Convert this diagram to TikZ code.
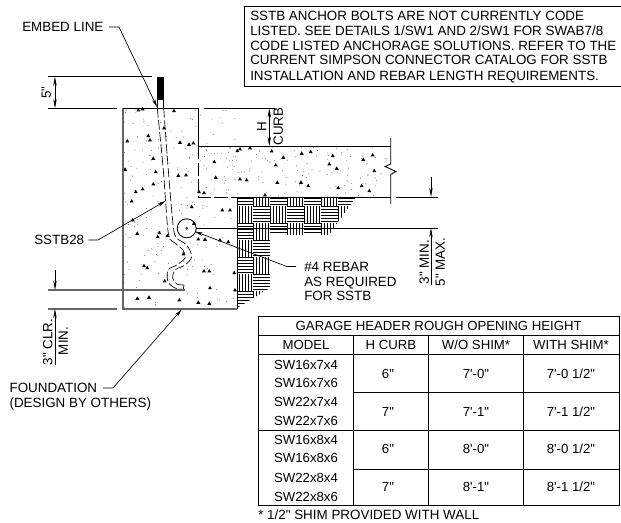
\documentclass[tikz,border=0pt]{standalone}
\usepackage{fontspec}
\usetikzlibrary{arrows.meta}
\newfontfamily\dwgfont{Liberation Sans}
\tikzset{
    lbl/.style={inner sep=0,anchor=west,text height=7.2pt,text depth=0pt,font=\dwgfont\fontsize{10.05}{12}\selectfont},
    cell/.style={lbl,anchor=center,font=\dwgfont\fontsize{9.9}{12}\selectfont},
    upright/.style={lbl,anchor=center,rotate=90},
    outline/.style={line width=0.65pt},
    thinline/.style={line width=0.5pt},
    greyline/.style={line width=1pt,black!60},
    dimline/.style={line width=0.5pt,-{Stealth[length=7pt,width=2.6pt]}},
    leader/.style={line width=0.5pt,-{Stealth[length=6pt,width=2.6pt]}},
    hatchline/.style={line width=0.5pt},
}
\begin{document}
\begin{tikzpicture}[x=0.75pt,y=-0.75pt]
    \pgfmathsetmacro{\wallleft}{123}
    \pgfmathsetmacro{\wallright}{198.5}
    \pgfmathsetmacro{\footright}{237}
    \pgfmathsetmacro{\walltop}{108.3}
    \pgfmathsetmacro{\slabtop}{146}
    \pgfmathsetmacro{\slabbottom}{197}
    \pgfmathsetmacro{\slabend}{390.7}
    \pgfmathsetmacro{\wallbottom}{309}
    \pgfmathsetmacro{\cellsize}{17}
    \pgfmathsetmacro{\hatchpitch}{3}
    \fill[white] (0,0) rectangle (621,523);
    \useasboundingbox (0,0) rectangle (621,523);
    % concrete
    \pgfmathsetseed{11}
    \foreach \i in {1,...,190} {
        \pgfmathsetmacro{\px}{\wallleft+1+rnd*(\footright-\wallleft-2)}
        \pgfmathsetmacro{\py}{\walltop+1+rnd*(\wallbottom-\walltop-2)}
        \fill[black!60] (\px,\py) circle (0.5);
    }
    \foreach \i in {1,...,120} {
        \pgfmathsetmacro{\px}{\wallright+1+rnd*(\slabend-\wallright-2)}
        \pgfmathsetmacro{\py}{\slabtop+1+rnd*(\slabbottom-\slabtop-2)}
        \fill[black!60] (\px,\py) circle (0.5);
    }
    \foreach \x/\y in {138.3/110,142.7/109,174/110.7,164/128,148.3/135.7,150/140,127.3/141,180/142.3,193.3/143,189/144.3,
        153.3/158.3,125/169.3,155.7/171.7,178.3/175.3,186/175,153.3/184,142.7/189,135.7/191.7,199/191.7,204/192.7,
        240/149,237.3/150.7,250/148,271.7/151,283.3/157.3,301.7/153.3,310.7/151.7,332.7/155.7,329.3/164,336.7/168.3,
        363.3/159.3,372.7/155,374.3/170.7,214.3/161.7,275.7/165,215.7/177.3,240/179,246.7/180,277.3/182.3,301/182.3,
        308.3/185.7,338.3/187.7,361.7/185.7,369.3/190.7,265/195,
        131.7/201,191.7/206.7,222.3/210,230/210,132.7/220,137.3/233.3,159.3/232.7,157.7/236.7,167.3/235.7,198.3/239,
        205/239.3,220/240,228.3/241.7,194/223.3,183.3/254,144/265.7,147.3/267.7,164.7/281,204/271,209.3/271,234.3/272.7,
        210/287.7,235/290,137.3/298.3,149/297.3,179.3/300,198.3/302.3,209.3/303.3} {
        \fill (\x-2,\y+1.5) -- (\x+2,\y+1.5) -- (\x,\y-2) -- cycle;
    }
    % masonry hatch
    \begin{scope}
        \clip (\footright,\slabbottom) -- (356,\slabbottom) -- (329,235) -- (270,235) -- (270,288) -- (\footright,308) -- cycle;
        \foreach \c in {0,...,6} {
            \foreach \r in {0,...,6} {
                \pgfmathsetmacro{\cx}{236+\c*\cellsize}
                \pgfmathsetmacro{\cy}{189+\r*\cellsize}
                \pgfmathtruncatemacro{\odd}{mod(\c+\r,2)}
                \foreach \k in {0,...,5} {
                    \ifnum\odd=0
                        \draw[hatchline] (\cx,\cy+0.5+\k*\hatchpitch) -- (\cx+\cellsize,\cy+0.5+\k*\hatchpitch);
                    \else
                        \draw[hatchline] (\cx+0.5+\k*\hatchpitch,\cy) -- (\cx+0.5+\k*\hatchpitch,\cy+\cellsize);
                    \fi
                }
            }
        }
    \end{scope}
    % foundation and curb
    \draw[greyline] (\footright,\wallbottom) -- (\wallleft,\wallbottom) -- (\wallleft,\walltop);
    \draw[outline] (\wallleft,\walltop) -- (\wallright,\walltop) -- (\wallright,\slabtop);
    \draw[outline] (\footright,\slabbottom) -- (\footright,\wallbottom);
    \draw[outline,dash pattern=on 10pt off 2.5pt] (\wallright,\slabtop) -- (\wallright,\slabbottom) -- (\footright,\slabbottom);
    \draw[outline] (\wallright,\slabtop) -- (\slabend,\slabtop);
    \draw[outline] (\footright,\slabbottom) -- (\slabend,\slabbottom);
    \draw[outline] (\slabend,138) -- (\slabend,164) -- (385,166.5) -- (396,171.5) -- (\slabend,174.5) -- (\slabend,204);
    % anchor bolt and rebar
    \fill (157.3,76.7) rectangle (163.7,99.3);
    \draw[thinline] (157.3,99.3) rectangle (163.7,\walltop);
    \draw[thinline,dash pattern=on 7pt off 2pt] plot[smooth] coordinates {(157.3,\walltop) (163.3,170) (168.3,233) (175,243) (183,250) (185,258) (176.7,265) (168,270) (168,281.7) (175,288) (183.3,289.3)};
    \draw[thinline,dash pattern=on 7pt off 2pt] plot[smooth] coordinates {(163.7,\walltop) (168.3,170) (173.3,226.7) (176.7,238) (186.7,245) (191.7,256.7) (185,265) (175,270) (172.7,278) (176.7,284) (184,285)};
    \draw[thinline] (184,285) -- (183.3,289.3);
    \draw[outline] (186.7,228.3) circle (9.5);
    \fill[black!70] (186.7,228.3) circle (1.6);
    \draw[outline] (196,228) -- (438,228);
    % labels and leaders
    \node[lbl] (embedlabel) at (22,27) {EMBED LINE};
    \coordinate (embedknee) at (119,27);
    \coordinate (embedtip) at (157,107);
    \draw[leader] ([xshift=4pt]embedlabel.east) -- (embedknee) -- (embedtip);
    \node[lbl] (sstblabel) at (34,240) {SSTB28};
    \coordinate (sstbknee) at (98,240);
    \coordinate (sstbtip) at (165.5,201);
    \draw[leader] ([xshift=3pt]sstblabel.east) -- (sstbknee) -- (sstbtip);
    \node[lbl] (rebarlabel) at (304,266.5) {\#4 REBAR};
    \node[lbl] (rebarlabelb) at (304,281.5) {AS REQUIRED};
    \node[lbl] (rebarlabelc) at (304,296) {FOR SSTB};
    \coordinate (rebarknee) at (286.7,266.5);
    \coordinate (rebartip) at (195,231.5);
    \draw[leader] ([xshift=-6pt]rebarlabel.west) -- (rebarknee) -- (rebartip);
    \node[lbl] (foundlabel) at (9.3,388) {FOUNDATION};
    \node[lbl] (foundlabelb) at (9.3,402.7) {(DESIGN BY OTHERS)};
    \coordinate (foundknee) at (113,388);
    \coordinate (foundtip) at (181.7,309.5);
    \draw[leader] ([xshift=4pt]foundlabel.east) -- (foundknee) -- (foundtip);
    % dimensions
    \draw[thinline] (48,76.7) -- (152,76.7);
    \draw[thinline] (48,\walltop) -- (117,\walltop);
    \coordinate (fivetop) at (55,76.7);
    \coordinate (fivebot) at (55,\walltop);
    \coordinate (fivemid) at (55,92.5);
    \draw[dimline] (fivemid) -- (fivetop);
    \draw[dimline] (fivemid) -- (fivebot);
    \node[upright] (fivelabel) at (46,92.5) {5"};
    \draw[thinline] (204,\walltop) -- (275,\walltop);
    \coordinate (curbtop) at (269.3,\walltop);
    \coordinate (curbbot) at (269.3,\slabtop);
    \coordinate (curbmid) at (269.3,127);
    \draw[dimline] (curbmid) -- (curbtop);
    \draw[dimline] (curbmid) -- (curbbot);
    \node[upright] (hlabel) at (261.5,127) {H};
    \node[upright] (curblabel) at (278,126.5) {CURB};
    \draw[thinline] (396,\slabbottom) -- (438,\slabbottom);
    \coordinate (minstart) at (431,177);
    \coordinate (mintop) at (431,\slabbottom);
    \coordinate (minend) at (431,285);
    \coordinate (minbot) at (431,228);
    \draw[dimline] (minstart) -- (mintop);
    \draw[dimline] (minend) -- (minbot);
    \node[upright] (minlabel) at (424,262) {3" MIN.};
    \node[upright] (maxlabel) at (440,262) {5" MAX.};
    \draw[greyline] (48,290) -- (185,290);
    \draw[greyline] (48,\wallbottom) -- (117,\wallbottom);
    \coordinate (clrstart) at (55,270);
    \coordinate (clrtop) at (55,290);
    \coordinate (clrend) at (55,365);
    \coordinate (clrbot) at (55,\wallbottom);
    \draw[dimline] (clrstart) -- (clrtop);
    \draw[dimline] (clrend) -- (clrbot);
    \node[upright] (clrlabel) at (47.5,342) {3" CLR.};
    \node[upright] (clrminlabel) at (63,341) {MIN.};
    % note
    \draw[outline] (621,6) -- (244,6) -- (244,86) -- (621,86);
    \node[lbl] (notea) at (250,16) {SSTB ANCHOR BOLTS ARE NOT CURRENTLY CODE};
    \node[lbl] (noteb) at (250,30.7) {LISTED. SEE DETAILS 1/SW1 AND 2/SW1 FOR SWAB7/8};
    \node[lbl] (notec) at (250,45.3) {CODE LISTED ANCHORAGE SOLUTIONS. REFER TO THE};
    \node[lbl] (noted) at (250,60) {CURRENT SIMPSON CONNECTOR CATALOG FOR SSTB};
    \node[lbl] (notee) at (250,76) {INSTALLATION AND REBAR LENGTH REQUIREMENTS.};
    % table
    \draw[thinline] (258.3,316) rectangle (619,505);
    \foreach \y in {335,354.3,430} {
        \draw[thinline] (258.3,\y) -- (619,\y);
    }
    \foreach \y in {392.7,469} {
        \draw[thinline] (353.3,\y) -- (619,\y);
    }
    \foreach \x in {353.3,428.3,523.3} {
        \draw[thinline] (\x,335) -- (\x,505);
    }
    \node[cell] (tabletitle) at (438.7,325.5) {GARAGE HEADER ROUGH OPENING HEIGHT};
    \foreach \x/\txt [count=\i] in {306/MODEL,391/H CURB,476/{W/O SHIM*},571/{WITH SHIM*}} {
        \node[cell] (head\i) at (\x,345) {\txt};
    }
    \foreach \y/\txt [count=\i] in {365/SW16x7x4,382.3/SW16x7x6,401.7/SW22x7x4,421/SW22x7x6,440/SW16x8x4,458/SW16x8x6,477.7/SW22x8x4,496.7/SW22x8x6} {
        \node[cell] (model\i) at (306,\y) {\txt};
    }
    \foreach \y/\hc/\wo/\wi [count=\i] in {373.3/6"/7'-0"/{7'-0 1/2"},411.7/7"/7'-1"/{7'-1 1/2"},449/6"/8'-0"/{8'-0 1/2"},486.7/7"/8'-1"/{8'-1 1/2"}} {
        \node[cell] (curb\i) at (388,\y) {\hc};
        \node[cell] (noshim\i) at (476,\y) {\wo};
        \node[cell] (shim\i) at (571,\y) {\wi};
    }
    \node[lbl] (footnote) at (258,515) {* 1/2" SHIM PROVIDED WITH WALL};
\end{tikzpicture}
\end{document}
